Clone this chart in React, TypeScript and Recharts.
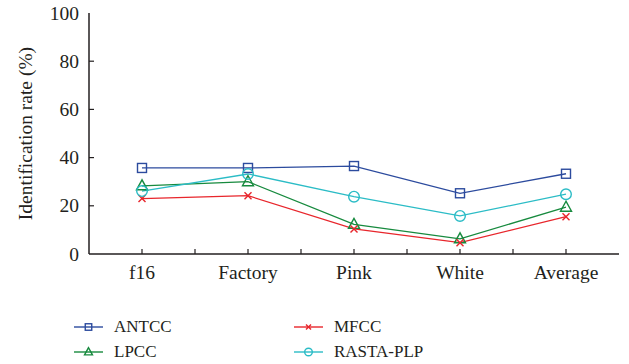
import React from 'react';
import { LineChart, Line, XAxis, YAxis, Legend } from 'recharts';

const categories = ['f16', 'Factory', 'Pink', 'White', 'Average'];
const antcc = [35.7, 35.7, 36.5, 25.2, 33.3];
const lpcc = [28.3, 30.0, 12.3, 6.3, 19.4];
const mfcc = [23.0, 24.2, 10.4, 4.7, 15.5];
const rasta = [26.1, 33.2, 23.8, 15.8, 24.8];
const yTicks = [0, 20, 40, 60, 80, 100];
const xTicks = [0.5, 1, 1.5, 2, 2.5, 3, 3.5, 4, 4.5];

const data = categories.map((c, i) => ({
  x: i + 0.5,
  name: c,
  ANTCC: antcc[i],
  LPCC: lpcc[i],
  MFCC: mfcc[i],
  RASTA: rasta[i],
}));

const FONT = '"Liberation Serif", "DejaVu Serif", serif';
const TXT = '#231f20';
const AX = '#231f20';

const series = [
  { key: 'ANTCC', label: 'ANTCC', color: '#2c4b9e', shape: 'square' },
  { key: 'LPCC', label: 'LPCC', color: '#178a3e', shape: 'triangle' },
  { key: 'MFCC', label: 'MFCC', color: '#e8262c', shape: 'cross' },
  { key: 'RASTA', label: 'RASTA-PLP', color: '#2bbcc6', shape: 'circle' },
];

function Marker({ cx, cy, color, shape, s = 1 }: any) {
  if (cx == null || cy == null) return null;
  if (shape === 'square')
    return <rect x={cx - 4.5 * s} y={cy - 4.5 * s} width={9 * s} height={9 * s} fill="none" stroke={color} strokeWidth={1.4} />;
  if (shape === 'triangle')
    return <polygon points={`${cx},${cy - 6 * s} ${cx - 5.5 * s},${cy + 4 * s} ${cx + 5.5 * s},${cy + 4 * s}`} fill="none" stroke={color} strokeWidth={1.4} />;
  if (shape === 'cross')
    return (
      <g stroke={color} strokeWidth={1.4}>
        <line x1={cx - 3.5 * s} y1={cy - 3.5 * s} x2={cx + 3.5 * s} y2={cy + 3.5 * s} />
        <line x1={cx - 3.5 * s} y1={cy + 3.5 * s} x2={cx + 3.5 * s} y2={cy - 3.5 * s} />
      </g>
    );
  return <circle cx={cx} cy={cy} r={5.3 * s} fill="none" stroke={color} strokeWidth={1.4} />;
}

const isMajor = (v: number) => Math.abs((v % 1) - 0.5) < 1e-6;

const BottomTick = (props: any) => {
  const { x, y, payload } = props;
  const v = payload.value;
  return (
    <g>
      <line x1={x} x2={x} y1={y} y2={y - 5} stroke={AX} strokeWidth={1.2} />
      {isMajor(v) && (
        <text x={x} y={y + 25} textAnchor="middle" fontFamily={FONT} fontSize={19.5} fill={TXT}>
          {categories[Math.floor(v)]}
        </text>
      )}
    </g>
  );
};

const TopTick = (props: any) => {
  const { x, y } = props;
  return <line x1={x} x2={x} y1={y} y2={y + 5} stroke={AX} strokeWidth={1.2} />;
};

const LeftTick = (props: any) => {
  const { x, y, payload } = props;
  const v = payload.value;
  return (
    <g>
      {v !== 0 && v !== 100 && <line x1={x} x2={x + 5} y1={y} y2={y} stroke={AX} strokeWidth={1.2} />}
      <text x={x - 10} y={y + 6.5} textAnchor="end" fontFamily={FONT} fontSize={19.5} fill={TXT}>
        {v}
      </text>
    </g>
  );
};

const RightTick = (props: any) => {
  const { x, y, payload } = props;
  const v = payload.value;
  if (v === 0 || v === 100) return <g />;
  return <line x1={x} x2={x - 5} y1={y} y2={y} stroke={AX} strokeWidth={1.2} />;
};

const LegendContent = () => {
  const pos = [
    { left: 74, top: 317 },
    { left: 74, top: 342 },
    { left: 294, top: 317 },
    { left: 294, top: 342 },
  ];
  return (
    <div style={{ position: 'relative', width: 629, height: 70 }}>
      {series.map((s, i) => (
        <div
          key={s.key}
          style={{
            position: 'absolute',
            left: pos[i].left,
            top: pos[i].top - 284,
            display: 'flex',
            alignItems: 'center',
            height: 20,
          }}
        >
          <svg width={29} height={20} style={{ display: 'block' }}>
            <line x1={0} x2={29} y1={10} y2={10} stroke={s.color} strokeWidth={1.4} />
            <Marker cx={14.5} cy={10} color={s.color} shape={s.shape} s={0.72} />
          </svg>
          <span style={{ marginLeft: 11, fontFamily: FONT, fontSize: 17, color: TXT, lineHeight: '20px' }}>
            {s.label}
          </span>
        </div>
      ))}
    </div>
  );
};

export default function App() {
  return (
    <div style={{ position: 'absolute', left: 0, top: 0, width: 629, height: 364, background: '#fff' }}>
      <LineChart width={629} height={364} data={data} margin={{ top: 13, right: 10, bottom: 10, left: 0 }}>
        <XAxis
          dataKey="x"
          type="number"
          domain={[0, 5]}
          ticks={xTicks}
          interval={0}
          tickSize={0}
          tickMargin={0}
          height={30}
          axisLine={{ stroke: AX, strokeWidth: 1.5 }}
          tickLine={false}
          tick={<BottomTick />}
        />
        <XAxis
          xAxisId="top"
          orientation="top"
          dataKey="x"
          type="number"
          domain={[0, 5]}
          ticks={xTicks}
          interval={0}
          tickSize={0}
          tickMargin={0}
          height={0}
          axisLine={{ stroke: AX, strokeWidth: 1.5 }}
          tickLine={false}
          tick={<TopTick />}
        />
        <YAxis
          type="number"
          domain={[0, 100]}
          ticks={yTicks}
          interval={0}
          width={89}
          tickSize={0}
          tickMargin={0}
          axisLine={{ stroke: AX, strokeWidth: 1.5 }}
          tickLine={false}
          tick={<LeftTick />}
          label={{
            value: 'Identification rate (%)',
            angle: -90,
            position: 'center',
            dx: -19,
            style: { fontFamily: FONT, fontSize: 19.5, fill: TXT },
          }}
        />
        <YAxis
          yAxisId="right"
          orientation="right"
          type="number"
          domain={[0, 100]}
          ticks={yTicks}
          interval={0}
          width={0}
          tickSize={0}
          tickMargin={0}
          axisLine={{ stroke: AX, strokeWidth: 1.5 }}
          tickLine={false}
          tick={<RightTick />}
        />
        {series.map((s) => (
          <Line
            key={s.key}
            dataKey={s.key}
            name={s.label}
            stroke={s.color}
            strokeWidth={1.3}
            isAnimationActive={false}
            dot={(p: any) => <Marker key={`${s.key}-${p.index}`} cx={p.cx} cy={p.cy} color={s.color} shape={s.shape} />}
          />
        ))}
        <Legend verticalAlign="bottom" height={70} content={<LegendContent />} />
      </LineChart>
    </div>
  );
}
